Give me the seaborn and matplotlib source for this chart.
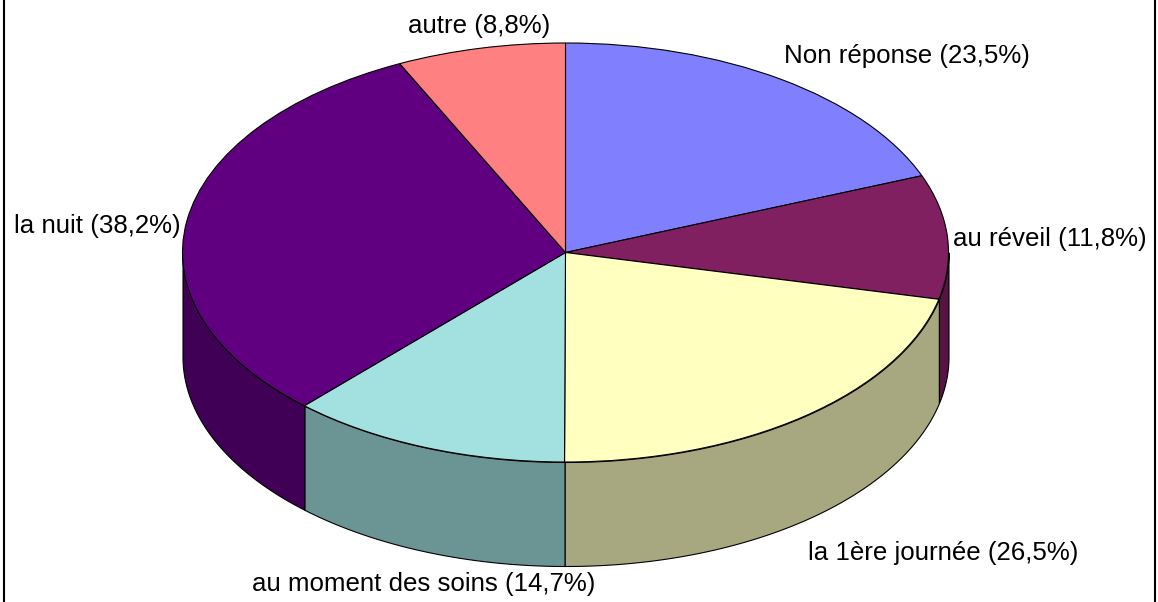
import numpy as np
import matplotlib
matplotlib.use('Agg')
import matplotlib.pyplot as plt
import seaborn as sns

labels = ['Non réponse (23,5%)', 'au réveil (11,8%)', 'la 1ère journée (26,5%)',
          'au moment des soins (14,7%)', 'la nuit (38,2%)', 'autre (8,8%)']
values = [23.5, 11.8, 26.5, 14.7, 38.2, 8.8]
top_colors = ['#8080FF', '#802060', '#FFFFC0', '#A3E0E0', '#600080', '#FF8080']
wall_colors = ['#55557F', '#551540', '#A8A880', '#6B9595', '#400055', '#AA5555']
# label centres in pixels
label_pos = [(907, 56), (1050, 239), (943, 553), (424, 584), (97, 226), (479, 26)]

W, H = 1158, 602
cx, cy, rx, ry, depth = 565.5, 252.5, 383, 209.5, 104

sns.set_theme(style='white')
plt.rcParams['font.family'] = ['Liberation Sans', 'DejaVu Sans']

fig = plt.figure(figsize=(W / 100, H / 100), dpi=100)
ax = fig.add_axes([4 / W, 0, (W - 7) / W, 1])

# top of the pie, one data unit = one radius so the circle turns into an ellipse
ax.pie(values, colors=sns.color_palette(top_colors), startangle=90, counterclock=False,
       radius=1, wedgeprops=dict(edgecolor='black', linewidth=0.8, zorder=3))
ax.set_aspect('auto')
ax.set_xlim((4 - cx) / rx, (W - 3 - cx) / rx)
ax.set_ylim((cy - H) / ry, cy / ry)

# side wall, only the front half (90 to 270 deg clockwise from the top) shows
edges = np.cumsum([0] + values) / sum(values) * 360
for i in range(len(values)):
    a = max(edges[i], 90)
    b = min(edges[i + 1], 270)
    if b <= a:
        continue
    t = np.radians(np.linspace(a, b, 120))
    x = np.sin(t)
    y = np.cos(t)
    ax.fill_between(x, y, y - depth / ry, color=wall_colors[i], edgecolor='black',
                    linewidth=0.8, zorder=2)

for lab, (px, py) in zip(labels, label_pos):
    fig.text(px / W, 1 - py / H, lab, ha='center', va='center', fontsize=18.6, color='black')

ax.set_frame_on(True)
ax.spines['top'].set_visible(False)
ax.spines['bottom'].set_visible(False)
for s in ['left', 'right']:
    ax.spines[s].set_visible(True)
    ax.spines[s].set_color('black')
    ax.spines[s].set_linewidth(1.5)

fig.savefig('out.png', dpi=100)
